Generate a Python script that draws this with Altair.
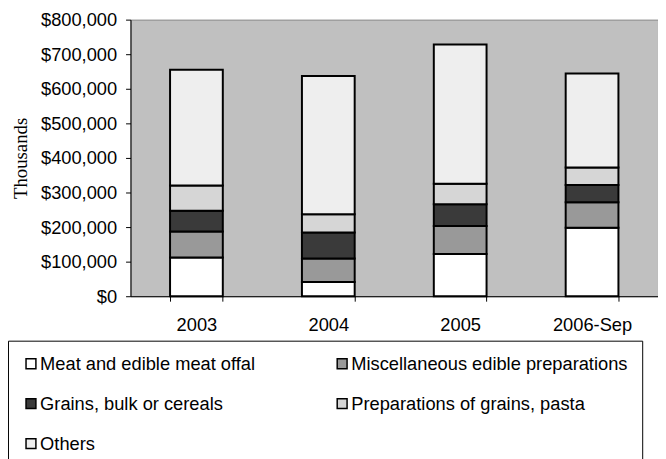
import altair as alt
import pandas as pd

years = ["2003", "2004", "2005", "2006-Sep"]
series = [
    "Meat and edible meat offal",
    "Miscellaneous edible preparations",
    "Grains, bulk or cereals",
    "Preparations of grains, pasta",
    "Others",
]
meat = [112000, 41000, 122000, 198000]
misc = [75000, 68000, 81000, 74000]
grains = [60000, 75000, 63000, 50000]
prep = [73000, 53000, 59000, 50000]
others = [335000, 400000, 403000, 272000]
fills = ["#ffffff", "#999999", "#3a3a3a", "#d6d6d6", "#eeeeee"]
y_ticks = [0, 100000, 200000, 300000, 400000, 500000, 600000, 700000, 800000]

# legend fills column by column (3 rows), so list entries in that order
legend_order = [0, 2, 4, 1, 3]
legend_domain = [series[i] for i in legend_order]
legend_range = [fills[i] for i in legend_order]

rows = []
for si, (name, vals) in enumerate(zip(series, [meat, misc, grains, prep, others])):
    for yr, v in zip(years, vals):
        rows.append({"year": yr, "series": name, "value": v, "order": si})
df = pd.DataFrame(rows)

SANS = "Liberation Sans"

chart = (
    alt.Chart(df)
    .mark_bar(stroke="black", strokeWidth=2)
    .encode(
        x=alt.X(
            "year:N",
            sort=years,
            scale=alt.Scale(paddingInner=0.6, paddingOuter=0.3),
            axis=alt.Axis(
                title=None,
                labelAngle=0,
                tickBand="extent",
                tickSize=5,
                labelPadding=15,
                labelFont=SANS,
                labelFontSize=18.5,
                labelColor="black",
                domainColor="black",
                tickColor="black",
            ),
        ),
        y=alt.Y(
            "value:Q",
            stack="zero",
            scale=alt.Scale(domain=[0, 800000]),
            axis=alt.Axis(
                values=y_ticks,
                format="$,.0f",
                title="Thousands",
                titleFont="Liberation Serif",
                titleFontWeight="normal",
                titleFontSize=19,
                titleColor="black",
                titlePadding=10,
                tickSize=5,
                labelPadding=9,
                labelFont=SANS,
                labelFontSize=18.5,
                labelColor="black",
                domainColor="black",
                tickColor="black",
                grid=False,
            ),
        ),
        color=alt.Color(
            "series:N",
            scale=alt.Scale(domain=legend_domain, range=legend_range),
            legend=alt.Legend(
                title=None,
                orient="none",
                legendX=-124,
                legendY=325,
                columns=2,
                strokeColor="black",
                fillColor="white",
                padding=14,
                columnPadding=78,
                rowPadding=21.5,
                symbolType="square",
                symbolSize=100,
                symbolStrokeColor="black",
                symbolStrokeWidth=1.5,
                labelFont=SANS,
                labelFontSize=18.5,
                labelColor="black",
                labelOffset=0,
                labelLimit=400,
                labelExpr="datum.label == 'Miscellaneous edible preparations' ? datum.label + '\u00a0\u00a0\u00a0' : datum.label",
            ),
        ),
        order=alt.Order("order:Q", sort="ascending"),
    )
    .properties(
        width=534,
        height=280,
        autosize=alt.AutoSizeParams(type="none"),
        padding={"left": 124, "top": 9, "right": 0, "bottom": 162},
        background="white",
    )
    .configure_view(fill="#c0c0c0", stroke="#808080", strokeWidth=1)
)

chart.save("out.html", embed_options={"renderer": "svg", "actions": False})
